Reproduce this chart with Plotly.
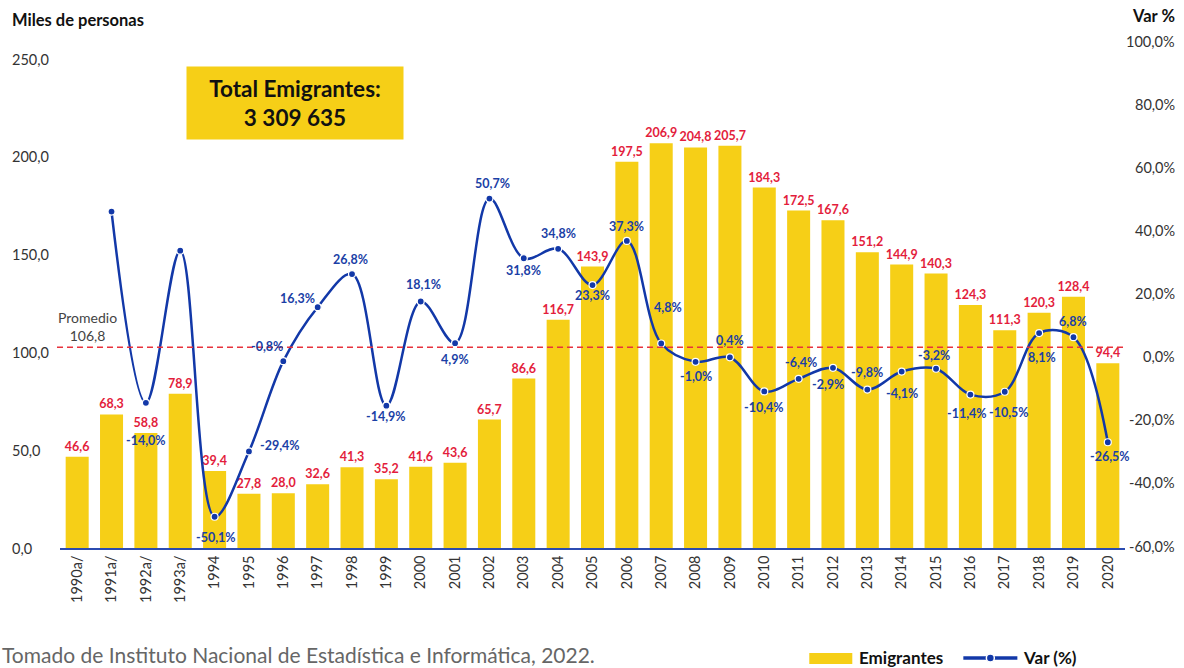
import plotly.graph_objects as go

# ---------------- data ----------------
years = ["1990a/", "1991a/", "1992a/", "1993a/", "1994", "1995", "1996", "1997", "1998",
         "1999", "2000", "2001", "2002", "2003", "2004", "2005", "2006", "2007", "2008",
         "2009", "2010", "2011", "2012", "2013", "2014", "2015", "2016", "2017", "2018",
         "2019", "2020"]
emigrantes = [46.6, 68.3, 58.8, 78.9, 39.4, 27.8, 28.0, 32.6, 41.3, 35.2, 41.6, 43.6, 65.7,
              86.6, 116.7, 143.9, 197.5, 206.9, 204.8, 205.7, 184.3, 172.5, 167.6, 151.2,
              144.9, 140.3, 124.3, 111.3, 120.3, 128.4, 94.4]
var_pct = [None, 46.6, -14.0, 34.2, -50.1, -29.4, -0.8, 16.3, 26.8, -14.9, 18.1, 4.9, 50.7,
           31.8, 34.8, 23.3, 37.3, 4.8, -1.0, 0.4, -10.4, -6.4, -2.9, -9.8, -4.1, -3.2,
           -11.4, -10.5, 8.1, 6.8, -26.5]
# which variation labels are printed in the source
var_label_shown = [False, False, True, False] + [True] * 27
left_ticks = [0, 50, 100, 150, 200, 250]
right_ticks = [-60, -40, -20, 0, 20, 40, 60, 80, 100]
promedio = 106.8
promedio_line_level = 102.6   # where the dashed line is drawn in the source
total_emigrantes = "3 309 635"

# ---------------- styling / layout helpers ----------------
# label offsets (px) of variation labels relative to their points
var_label_offsets = [(0, 0), (0, 0), (0, -38), (0, 0), (1, -21), (31, 6), (-16, 15), (-20, 9),
                     (-2, 15), (0, -11), (3, 17), (0, -16), (3, 15), (0, -12), (0, 15),
                     (0, -10), (0, 14), (7, 36), (0, -15), (0, 17), (0, -16), (2, 16),
                     (-5, -17), (0, 17), (0, -22), (-2, 13), (-3, -19), (4, -21), (3, -24),
                     (0, 16), (2, -14)]

W, H = 1184, 668
PL, PR, PT, PB = 60, 1124.6, 43, 548
FONT = "Lato"
BAR = "#F6CF17"
RED = "#E31D3C"
BLUE = "#1238A8"
LBLUE = "#1B3FA6"


def px(x):
    return (x - PL) / (PR - PL)


def py(y):
    return (PB - y) / (PB - PT)


def fmt(v, dec=1):
    return f"{v:.{dec}f}".replace(".", ",")


fig = go.Figure()

fig.add_trace(go.Bar(
    x=years, y=emigrantes, name="Emigrantes",
    marker=dict(color=BAR, line=dict(width=0)),
    text=[fmt(v) for v in emigrantes], textposition="outside", constraintext="none",
    textfont=dict(family=FONT, size=12.5, color=RED, weight="bold"),
    cliponaxis=False, showlegend=False,
))

fig.add_trace(go.Scatter(
    x=years, y=var_pct, name="Var (%)", yaxis="y2", mode="lines+markers",
    line=dict(color=BLUE, width=2.5, shape="spline", smoothing=1.0),
    marker=dict(color=BLUE, size=7, line=dict(color="white", width=1.2)),
    cliponaxis=False, showlegend=False,
))

ann = []
# variation labels (x given as category index)
for i, (v, show, (dx, dy)) in enumerate(zip(var_pct, var_label_shown, var_label_offsets)):
    if v is None or not show:
        continue
    ann.append(dict(x=i, y=v, xref="x", yref="y2", text=f"<b>{fmt(v)}%</b>",
                    showarrow=False, xshift=dx, yshift=dy, xanchor="center", yanchor="middle",
                    font=dict(family=FONT, size=12.5, color=LBLUE)))

# left tick labels
for t in left_ticks:
    ann.append(dict(x=px(10), y=t, xref="paper", yref="y", text=fmt(t), xanchor="left",
                    yanchor="middle", showarrow=False,
                    font=dict(family=FONT, size=14.5, color="#333333")))
# right tick labels
for t in right_ticks:
    ann.append(dict(x=px(1177), y=t, xref="paper", yref="y2", text=fmt(t) + "%",
                    xanchor="right", yanchor="middle", showarrow=False, yshift=2,
                    font=dict(family=FONT, size=14.5, color="#333333")))

# axis titles
ann.append(dict(x=px(10), y=py(20), xref="paper", yref="paper", text="<b>Miles de personas</b>",
                xanchor="left", yanchor="middle", showarrow=False,
                font=dict(family=FONT, size=16.5, color="#111111")))
ann.append(dict(x=px(1177), y=py(16), xref="paper", yref="paper", text="<b>Var %</b>",
                xanchor="right", yanchor="middle", showarrow=False,
                font=dict(family=FONT, size=16.5, color="#111111")))

# total box
ann.append(dict(x=px(295), y=py(103), xref="paper", yref="paper",
                text=f"<b>Total Emigrantes:<br>{total_emigrantes}</b>",
                xanchor="center", yanchor="middle",
                showarrow=False, bgcolor=BAR, width=216, height=72, borderpad=0,
                font=dict(family=FONT, size=22.5, color="#111111")))

# promedio label
ann.append(dict(x=px(87), y=promedio_line_level, xref="paper", yref="y",
                text=f"Promedio<br>{fmt(promedio)}", showarrow=False, yshift=21,
                xanchor="center", yanchor="middle",
                font=dict(family=FONT, size=14, color="#444444")))

# footer
ann.append(dict(x=px(0), y=py(654), xref="paper", yref="paper",
                text="Tomado de Instituto Nacional de Estadística e Informática, 2022.",
                xanchor="left", yanchor="middle", showarrow=False,
                font=dict(family=FONT, size=21, color="#666666")))

# custom legend
ann.append(dict(x=px(857), y=py(657), xref="paper", yref="paper", text="<b>Emigrantes</b>",
                xanchor="left", yanchor="middle", showarrow=False,
                font=dict(family=FONT, size=17, color="#111111")))
ann.append(dict(x=px(1021), y=py(657), xref="paper", yref="paper", text="<b>Var (%)</b>",
                xanchor="left", yanchor="middle", showarrow=False,
                font=dict(family=FONT, size=17, color="#111111")))

shapes = [
    dict(type="line", xref="paper", yref="y", x0=px(57), x1=px(1123),
         y0=promedio_line_level, y1=promedio_line_level,
         line=dict(color="#E8323C", width=1.5, dash="6px,4px")),
    dict(type="rect", xref="paper", yref="paper", x0=px(809), x1=px(852), y0=py(664), y1=py(653),
         fillcolor=BAR, line=dict(width=0)),
    dict(type="line", xref="paper", yref="paper", x0=px(963), x1=px(1017), y0=py(658), y1=py(658),
         line=dict(color=BLUE, width=3.5)),
    dict(type="circle", xref="paper", yref="paper", x0=px(986), x1=px(994), y0=py(662), y1=py(654),
         fillcolor=BLUE, line=dict(color="white", width=1.5)),
]

fig.update_layout(
    width=W, height=H,
    margin=dict(l=PL, r=W - PR, t=PT, b=H - PB, autoexpand=False),
    paper_bgcolor="white", plot_bgcolor="white",
    separators=", ",
    bargap=0.33,
    showlegend=False,
    font=dict(family=FONT, color="#333333"),
    xaxis=dict(type="category", range=[-0.5, len(years) - 0.5], tickangle=-90, showgrid=False,
               ticks="", automargin=False,
               tickfont=dict(family=FONT, size=14.5, color="#333333"),
               showline=True, linecolor="#2B4BB0", linewidth=1.5),
    yaxis=dict(range=[0, 258.2], showgrid=False, showticklabels=False, zeroline=False,
               showline=False, ticks=""),
    yaxis2=dict(range=[-60, 100], overlaying="y", side="right", showgrid=False,
                showticklabels=False, zeroline=False, showline=False, ticks=""),
    annotations=ann, shapes=shapes,
)

fig.write_html("out.html", config={"displayModeBar": False},
               post_script="document.body.style.margin='0';")
